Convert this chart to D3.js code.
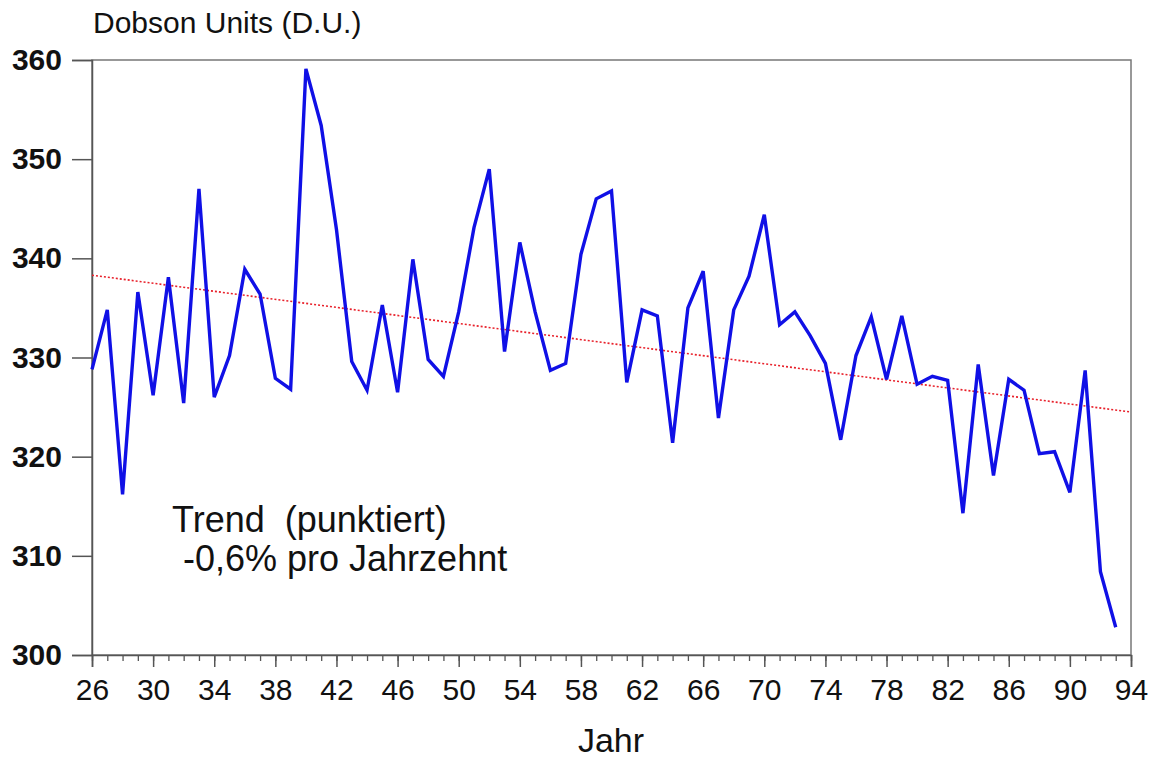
<!DOCTYPE html>
<html>
<head>
<meta charset="utf-8">
<script src="https://cdn.jsdelivr.net/npm/d3@7"></script>
<style>
  body { margin: 0; background: #fff; }
  svg { font-family: "Liberation Sans", Arial, Helvetica, sans-serif; }
</style>
</head>
<body>
<svg width="1154" height="760"></svg>
<script>
// years (19xx) and total ozone in Dobson units
const years = d3.range(26, 94);
const ozone = [
  328.8, 334.8, 316.2, 336.6, 326.2, 338.1, 325.4, 347.0, 326.0, 330.2,
  338.9, 336.4, 327.9, 326.8, 359.1, 353.4, 342.9, 329.6, 326.7, 335.3,
  326.5, 339.9, 329.8, 328.1, 334.6, 343.1, 349.0, 330.6, 341.6, 334.6,
  328.7, 329.4, 340.4, 346.0, 346.8, 327.5, 334.8, 334.2, 321.4, 335.0,
  338.7, 323.9, 334.8, 338.2, 344.4, 333.3, 334.6, 332.2, 329.4, 321.7,
  330.2, 334.1, 327.8, 334.2, 327.3, 328.1, 327.7, 314.3, 329.3, 318.1,
  327.8, 326.7, 320.3, 320.5, 316.4, 328.7, 308.4, 302.8
];
// dotted trend line, start and end
const trendYears = [26, 94];
const trendValues = [338.3, 324.5];
const xTicks = d3.range(26, 95, 4);
const yTicks = [300, 310, 320, 330, 340, 350, 360];

let svg = d3.select("svg");
let plotLeft = 92, plotRight = 1131, plotTop = 60, plotBottom = 655;

let x = d3.scaleLinear().domain([26, 94]).range([plotLeft, plotRight]);
let y = d3.scaleLinear().domain([300, 360]).range([plotBottom, plotTop]);

// frame
svg.append("rect")
  .attr("x", plotLeft).attr("y", plotTop)
  .attr("width", plotRight - plotLeft).attr("height", plotBottom - plotTop)
  .attr("fill", "none").attr("stroke", "#777").attr("stroke-width", 1.5);

// y axis, ticks pointing outward
let yAxis = svg.append("g")
  .attr("transform", "translate(" + plotLeft + ",0)")
  .call(d3.axisLeft(y).tickValues(yTicks).tickSize(20).tickPadding(10));
yAxis.attr("font-size", null).attr("font-family", null);
yAxis.select(".domain").attr("stroke", "#555").attr("stroke-width", 1.5);
yAxis.selectAll(".tick line").attr("stroke", "#555").attr("stroke-width", 1.5);
yAxis.selectAll(".tick text")
  .style("font-size", "30px").style("font-weight", "bold")
  .attr("fill", "#111");

// x axis, minor ticks every year
let xMinor = svg.append("g")
  .attr("transform", "translate(0," + plotBottom + ")")
  .call(d3.axisBottom(x).tickValues(d3.range(26, 95)).tickSize(6).tickFormat(""));
xMinor.select(".domain").remove();
xMinor.selectAll(".tick line").attr("stroke", "#555").attr("stroke-width", 1.3);

let xAxis = svg.append("g")
  .attr("transform", "translate(0," + plotBottom + ")")
  .call(d3.axisBottom(x).tickValues(xTicks).tickSize(12).tickPadding(12));
xAxis.attr("font-size", null).attr("font-family", null);
xAxis.select(".domain").attr("stroke", "#555").attr("stroke-width", 1.5);
xAxis.selectAll(".tick line").attr("stroke", "#555").attr("stroke-width", 1.5);
xAxis.selectAll(".tick text")
  .style("font-size", "30px").attr("fill", "#111");

// trend (dotted)
svg.append("path")
  .datum(trendYears.map(function(d, i) { return [d, trendValues[i]]; }))
  .attr("fill", "none")
  .attr("stroke", "#e8202a")
  .attr("stroke-width", 1.6)
  .attr("stroke-dasharray", "2,2")
  .attr("d", d3.line().x(function(d) { return x(d[0]); }).y(function(d) { return y(d[1]); }));

// ozone series
svg.append("path")
  .datum(years.map(function(d, i) { return [d, ozone[i]]; }))
  .attr("fill", "none")
  .attr("stroke", "#1010e6")
  .attr("stroke-width", 3.4)
  .attr("stroke-linejoin", "miter")
  .attr("d", d3.line().x(function(d) { return x(d[0]); }).y(function(d) { return y(d[1]); }));

// labels
svg.append("text")
  .attr("x", 93).attr("y", 33)
  .style("font-size", "30px").attr("fill", "#111")
  .text("Dobson Units (D.U.)");

svg.append("text")
  .attr("x", 611).attr("y", 752)
  .attr("text-anchor", "middle")
  .style("font-size", "34px").attr("fill", "#111")
  .text("Jahr");

svg.append("text")
  .attr("x", 172).attr("y", 532)
  .style("font-size", "36px").attr("fill", "#111")
  .attr("xml:space", "preserve")
  .text("Trend  (punktiert)");

svg.append("text")
  .attr("x", 183).attr("y", 571)
  .style("font-size", "36px").attr("fill", "#111")
  .text("-0,6% pro Jahrzehnt");
</script>
</body>
</html>
